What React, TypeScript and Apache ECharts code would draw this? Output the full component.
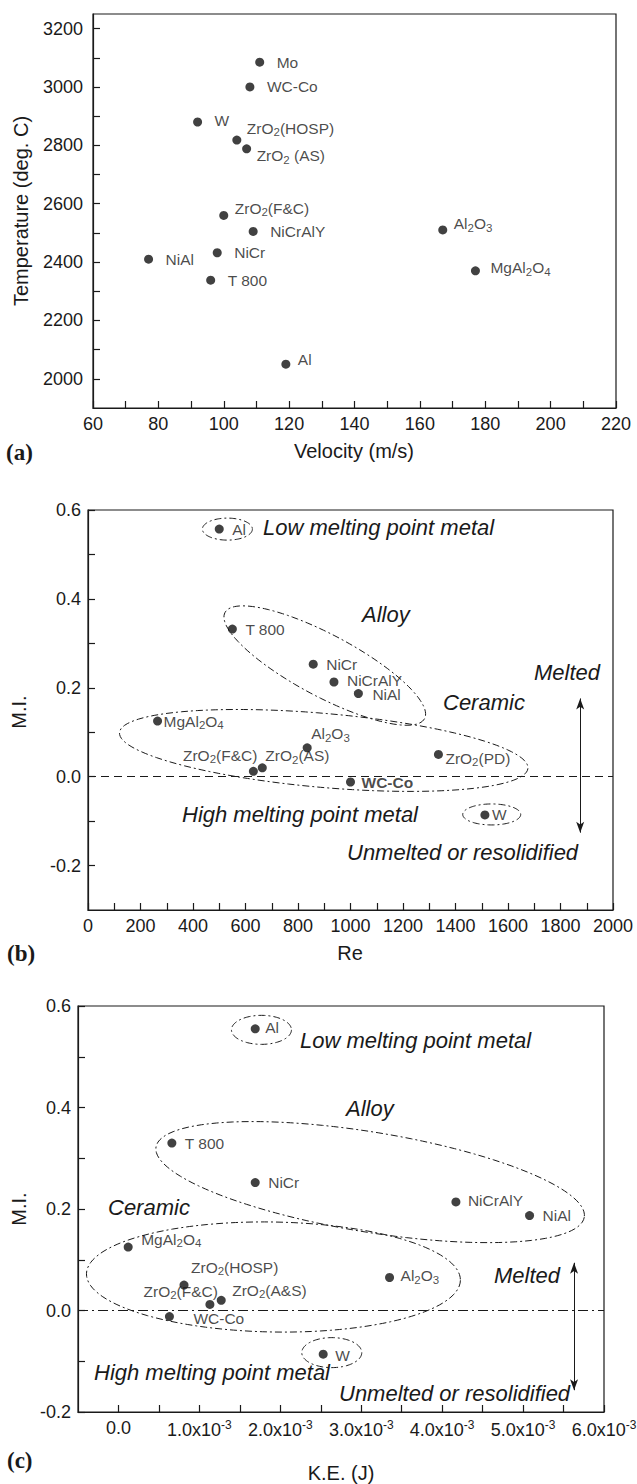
import React, { useEffect, useRef } from "react";
import * as echarts from "echarts";

const FONT = '"Liberation Sans", Arial, Helvetica, sans-serif';
const SERIF = '"Liberation Serif", "Times New Roman", serif';
const INK = "#1a1a1a";

// ---------- Panel (a): Temperature vs Velocity ----------
const aNames = ["Mo", "WC-Co", "W", "ZrO_2(HOSP)", "ZrO_2 (AS)", "ZrO_2(F&C)", "NiCrAlY", "Al_2O_3", "NiAl", "NiCr", "T 800", "MgAl_2O_4", "Al"];
const aVelocity = [111, 108, 92, 104, 107, 100, 109, 167, 77, 98, 96, 177, 119];
const aTemperature = [3085, 3000, 2880, 2818, 2788, 2560, 2505, 2510, 2410, 2432, 2338, 2370, 2050];
const aXLabels = [60, 80, 100, 120, 140, 160, 180, 200, 220];
const aXTicks = [60, 70, 80, 90, 100, 110, 120, 130, 140, 150, 160, 170, 180, 190, 200, 210, 220];
const aYLabels = [2000, 2200, 2400, 2600, 2800, 3000, 3200];
const aYTicks = [2000, 2100, 2200, 2300, 2400, 2500, 2600, 2700, 2800, 2900, 3000, 3100, 3200];

// ---------- Panel (b): M.I. vs Re ----------
const bNames = ["Al", "T 800", "NiCr", "NiCrAlY", "NiAl", "MgAl_2O_4", "Al_2O_3", "ZrO_2(F&C)", "ZrO_2(AS)", "WC-Co", "ZrO_2(PD)", "W"];
const bRe = [500, 550, 858, 937, 1030, 265, 835, 630, 664, 1000, 1335, 1512];
const bMI = [0.557, 0.332, 0.253, 0.213, 0.187, 0.125, 0.065, 0.012, 0.02, -0.012, 0.05, -0.086];
const bXLabels = [0, 200, 400, 600, 800, 1000, 1200, 1400, 1600, 1800, 2000];
const bXTicks = [0, 100, 200, 300, 400, 500, 600, 700, 800, 900, 1000, 1100, 1200, 1300, 1400, 1500, 1600, 1700, 1800, 1900, 2000];
const bYLabels = [-0.2, 0.0, 0.2, 0.4, 0.6];
const bYTicks = [-0.2, -0.1, 0.0, 0.1, 0.2, 0.3, 0.4, 0.5, 0.6];

// ---------- Panel (c): M.I. vs K.E. ----------
const cNames = ["Al", "T 800", "NiCr", "NiCrAlY", "NiAl", "MgAl_2O_4", "ZrO_2(HOSP)", "ZrO_2(F&C)", "ZrO_2(A&S)", "WC-Co", "Al_2O_3", "W"];
const cKE = [0.00169, 0.00066, 0.00169, 0.00417, 0.00508, 0.00012, 0.00081, 0.00113, 0.00127, 0.00063, 0.00335, 0.00253];
const cMI = [0.555, 0.33, 0.252, 0.214, 0.187, 0.125, 0.05, 0.012, 0.02, -0.012, 0.065, -0.086];
const cXLabels = [0, 0.001, 0.002, 0.003, 0.004, 0.005, 0.006];
const cXTicks = [0, 0.0005, 0.001, 0.0015, 0.002, 0.0025, 0.003, 0.0035, 0.004, 0.0045, 0.005, 0.0055, 0.006];
const cYLabels = [-0.2, 0.0, 0.2, 0.4, 0.6];
const cYTicks = [-0.2, -0.1, 0.0, 0.1, 0.2, 0.3, 0.4, 0.5, 0.6];

// ---------- label placement (offset of text from dot centre, px) ----------
type Pos = [number, number, string?];
const aLabelPos: Record<string, Pos> = {
  "Mo": [17, 0], "WC-Co": [17, 0], "W": [17, -1], "ZrO_2(HOSP)": [10, -12], "ZrO_2 (AS)": [10, 7],
  "ZrO_2(F&C)": [11, -7], "NiCrAlY": [17, 0], "Al_2O_3": [11, -6], "NiAl": [17, 0], "NiCr": [17, 0],
  "T 800": [17, 0], "MgAl_2O_4": [15, -3], "Al": [12, -5],
};
const bLabelPos: Record<string, Pos> = {
  "Al": [13, 0], "T 800": [13, 0], "NiCr": [13, 0], "NiCrAlY": [13, -2], "NiAl": [14, 1],
  "MgAl_2O_4": [6, 0], "Al_2O_3": [4, -14], "ZrO_2(F&C)": [4, -16, "right"], "ZrO_2(AS)": [3, -12],
  "WC-Co": [11, 0], "ZrO_2(PD)": [7, 4], "W": [7, 0],
};
const cLabelPos: Record<string, Pos> = {
  "Al": [10, -1], "T 800": [13, 0], "NiCr": [13, 0], "NiCrAlY": [12, -1], "NiAl": [13, 0],
  "MgAl_2O_4": [13, -8], "ZrO_2(HOSP)": [7, -18], "ZrO_2(F&C)": [8, -13, "right"], "ZrO_2(A&S)": [11, -10],
  "WC-Co": [24, 2], "Al_2O_3": [11, -2], "W": [12, 1],
};

// ---------- annotations: ellipses [cx, cy (data), rx, ry (px), tilt deg] ----------
const bEllipses = [
  [531, 0.557, 25, 11, 0],
  [902, 0.25, 113, 31, 28],
  [898, 0.059, 205, 37, 5],
  [1538, -0.085, 29, 10.5, 0],
];
const cEllipses = [
  [0.001767, 0.553, 30, 14.5, 0],
  [0.00311, 0.253, 217, 50, 9.3],
  [0.001915, 0.066, 187, 55, 1],
  [0.002636, -0.083, 30, 15, 0],
];
const bArrow = [[1875, 0.176], [1875, -0.126]];
const cArrow = [[0.00563, 0.094], [0.00563, -0.157]];

function richName(name: string, bold: boolean) {
  const tag = bold ? "b" : "n";
  return name
    .split(/(_\d)/)
    .filter((p) => p.length > 0)
    .map((p) => (p.startsWith("_") ? `{s|${p.slice(1)}}` : `{${tag}|${p}}`))
    .join("");
}

const labelRich = {
  n: { fontSize: 15.5, fontFamily: FONT, color: INK },
  b: { fontSize: 15.5, fontFamily: FONT, color: INK, fontWeight: "bold" },
  s: { fontSize: 11.5, fontFamily: FONT, color: INK, padding: [8, 0, 0, 0] },
};

function points(names: string[], xs: number[], ys: number[], pos: Record<string, Pos>) {
  return names.map((n, i) => {
    const p = pos[n] || [12, 0];
    return {
      name: n,
      value: [xs[i], ys[i]],
      label: {
        position: [4.5 + p[0], 4.5 + p[1]],
        align: p[2] || "left",
        verticalAlign: "middle",
      },
    };
  });
}

function scatterSeries(idx: number, data: any[], boldName?: string, zeroLine?: any) {
  return {
    type: "scatter",
    xAxisIndex: idx,
    yAxisIndex: idx,
    symbol: "circle",
    symbolSize: 9,
    itemStyle: { color: "#111" },
    silent: true,
    label: {
      show: true,
      formatter: (p: any) => richName(p.name, p.name === boldName),
      rich: labelRich,
    },
    data,
    markLine: zeroLine,
    z: 5,
  };
}

function ellipseSeries(idx: number, ellipses: number[][], arrow: number[][]) {
  return {
    type: "custom",
    xAxisIndex: idx,
    yAxisIndex: idx,
    silent: true,
    clip: false,
    encode: { x: 0, y: 1 },
    data: ellipses,
    renderItem: (params: any, api: any) => {
      const c = api.coord([api.value(0), api.value(1)]);
      const rx = api.value(2);
      const ry = api.value(3);
      const ang = (api.value(4) * Math.PI) / 180;
      const pts: number[][] = [];
      for (let k = 0; k <= 120; k++) {
        const t = (k / 120) * Math.PI * 2;
        const ex = rx * Math.cos(t);
        const ey = ry * Math.sin(t);
        pts.push([c[0] + ex * Math.cos(ang) - ey * Math.sin(ang), c[1] + ex * Math.sin(ang) + ey * Math.cos(ang)]);
      }
      return {
        type: "polyline",
        shape: { points: pts },
        style: { stroke: INK, fill: "none", lineWidth: 1, lineDash: [7, 3, 2, 3] },
      };
    },
    markLine: {
      silent: true,
      symbol: ["arrow", "arrow"],
      symbolSize: [6, 11],
      label: { show: false },
      lineStyle: { color: INK, width: 1, type: "solid" },
      data: [[{ coord: arrow[0] }, { coord: arrow[1] }]],
    },
  };
}

function axisBase(margin: number) {
  return {
    axisLine: { show: true, onZero: false, lineStyle: { color: INK, width: 1.2 } },
    splitLine: { show: false },
    axisTick: { show: true, inside: true, length: 7, lineStyle: { color: INK, width: 1.2 } },
    axisLabel: { color: INK, fontSize: 18, fontFamily: FONT, margin },
  };
}

const plain = (v: number) => String(v);
const oneDec = (v: number) => v.toFixed(1);

function xAxis(idx: number, min: number, max: number, labels: number[], ticks: number[], fmt: any, rich?: any) {
  const b = axisBase(7);
  return {
    type: "value",
    gridIndex: idx,
    min,
    max,
    ...b,
    axisTick: { ...b.axisTick, customValues: ticks },
    axisLabel: { ...b.axisLabel, customValues: labels, formatter: fmt, rich },
  };
}

function yAxis(idx: number, min: number, max: number, labels: number[], ticks: number[], margin: number, fmt: any) {
  const b = axisBase(margin);
  return {
    type: "value",
    gridIndex: idx,
    min,
    max,
    ...b,
    axisTick: { ...b.axisTick, customValues: ticks },
    axisLabel: { ...b.axisLabel, customValues: labels, formatter: fmt },
  };
}

function txt(text: string, x: number, y: number, opts: any = {}) {
  return {
    type: "text",
    x,
    y,
    rotation: opts.rotation || 0,
    silent: true,
    style: {
      text,
      fill: INK,
      fontSize: opts.fontSize || 20,
      fontFamily: opts.fontFamily || FONT,
      fontStyle: opts.fontStyle || "normal",
      fontWeight: opts.fontWeight || "normal",
      textAlign: opts.align || "left",
      align: opts.align || "left",
      textVerticalAlign: "middle",
      verticalAlign: "middle",
    },
  };
}

const ital = { fontSize: 22, fontStyle: "italic" };
const tag = { fontFamily: SERIF, fontWeight: "bold", fontSize: 23 };

export default function App() {
  const ref = useRef<HTMLDivElement>(null);
  useEffect(() => {
    document.body.style.margin = "0";
    if (!ref.current) return;
    const chart = echarts.init(ref.current, undefined, { renderer: "svg" });
    const gridBase = { show: true, borderColor: INK, borderWidth: 1.2, backgroundColor: "transparent", outerBoundsMode: "none", containLabel: false };
    const zeroDash = {
      silent: true, symbol: ["none", "none"], label: { show: false },
      lineStyle: { color: INK, width: 1, type: [8, 5] }, data: [{ yAxis: 0 }],
    };
    const zeroDashDot = {
      silent: true, symbol: ["none", "none"], label: { show: false },
      lineStyle: { color: INK, width: 1, type: [10, 4, 2, 4] }, data: [{ yAxis: 0 }],
    };
    const keFmt = (v: number) => (Math.abs(v) < 1e-12 ? "0.0" : `${(v * 1000).toFixed(1)}x10{sup|-3}`);
    const option: any = {
      animation: false,
      grid: [
        { ...gridBase, left: 93, top: 14, width: 523, height: 394 },
        { ...gridBase, left: 88, top: 510, width: 525, height: 400 },
        { ...gridBase, left: 78, top: 1006, width: 526, height: 406 },
      ],
      xAxis: [
        xAxis(0, 60, 220, aXLabels, aXTicks, plain),
        xAxis(1, 0, 2000, bXLabels, bXTicks, plain),
        xAxis(2, -0.0005, 0.006, cXLabels, cXTicks, keFmt, {
          sup: { fontSize: 12, fontFamily: FONT, color: INK, padding: [0, 0, 9, 0] },
        }),
      ],
      yAxis: [
        yAxis(0, 1900, 3250, aYLabels, aYTicks, 10, plain),
        yAxis(1, -0.3, 0.6, bYLabels, bYTicks, 7, oneDec),
        yAxis(2, -0.2, 0.6, cYLabels, cYTicks, 7, oneDec),
      ],
      series: [
        scatterSeries(0, points(aNames, aVelocity, aTemperature, aLabelPos)),
        ellipseSeries(1, bEllipses, bArrow),
        scatterSeries(1, points(bNames, bRe, bMI, bLabelPos), "WC-Co", zeroDash),
        ellipseSeries(2, cEllipses, cArrow),
        scatterSeries(2, points(cNames, cKE, cMI, cLabelPos), undefined, zeroDashDot),
      ],
      graphic: [
        // panel (a)
        txt("Temperature (deg. C)", 21, 211, { rotation: Math.PI / 2, align: "center" }),
        txt("Velocity (m/s)", 354, 451, { align: "center" }),
        txt("(a)", 6, 452, tag),
        // panel (b)
        txt("M.I.", 19, 712, { rotation: Math.PI / 2, align: "center" }),
        txt("Re", 350, 953, { align: "center" }),
        txt("(b)", 7, 953, tag),
        txt("Low melting point metal", 263, 527, ital),
        txt("Alloy", 362, 614, ital),
        txt("Ceramic", 443, 702, ital),
        txt("Melted", 534, 672, ital),
        txt("High melting point metal", 182, 814, ital),
        txt("Unmelted or resolidified", 347, 852, ital),
        // panel (c)
        txt("M.I.", 19, 1209, { rotation: Math.PI / 2, align: "center" }),
        txt("K.E. (J)", 341, 1473, { align: "center" }),
        txt("(c)", 7, 1460, tag),
        txt("Low melting point metal", 300, 1040, ital),
        txt("Alloy", 346, 1108, ital),
        txt("Ceramic", 108, 1207, ital),
        txt("Melted", 494, 1275, ital),
        txt("High melting point metal", 94, 1372, ital),
        txt("Unmelted or resolidified", 339, 1393, ital),
      ],
    };
    chart.setOption(option);
    return () => chart.dispose();
  }, []);
  return <div ref={ref} style={{ width: 637, height: 1484 }} />;
}
